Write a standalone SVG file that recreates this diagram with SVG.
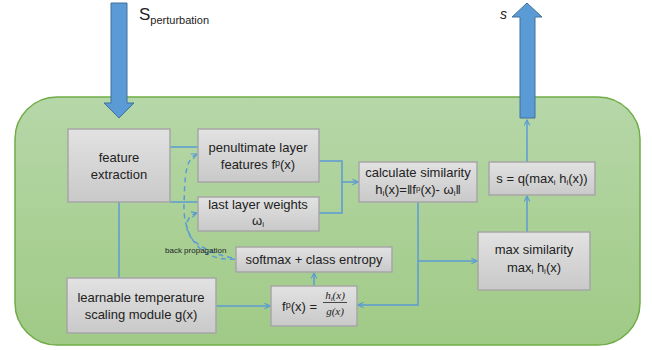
<svg xmlns="http://www.w3.org/2000/svg" width="652" height="350" viewBox="0 0 652 350">
<defs>
<linearGradient id="bg" x1="0" y1="0" x2="0" y2="1">
<stop offset="0" stop-color="#b6d7a8"/>
<stop offset="1" stop-color="#a0ca86"/>
</linearGradient>
<linearGradient id="box" x1="0" y1="0" x2="0" y2="1">
<stop offset="0" stop-color="#e2e2e2"/>
<stop offset="1" stop-color="#c9c9c9"/>
</linearGradient>
<marker id="ah" viewBox="0 0 10 10" refX="9" refY="5" markerWidth="7" markerHeight="7" orient="auto" markerUnits="userSpaceOnUse">
<path d="M1,1 L9,5 L1,9" fill="none" stroke="#5b9bd5" stroke-width="1.6"/>
</marker>
</defs>
<style>
.b{fill:url(#box);stroke:#a6a6a6;stroke-width:1.5}
.t{font-family:"Liberation Sans",Arial,sans-serif;font-size:13px;fill:#222;text-anchor:middle}
.c{fill:none;stroke:#5b9bd5;stroke-width:1.5}
.d{fill:none;stroke:#5b9bd5;stroke-width:1.5;stroke-dasharray:5,4}
.big{fill:#5b9bd5;stroke:#41719c;stroke-width:1}
</style>
<rect x="15" y="97" width="625" height="248" rx="42" ry="42" fill="url(#bg)" stroke="#70ad47" stroke-width="1.5"/>
<g id="input-arrow">
<path class="big" d="M111,3 H127 V103 H134 L119,118 L104,103 H111 Z"/>
<text x="139" y="20" font-family="'Liberation Sans',Arial,sans-serif" font-size="17" fill="#222">S<tspan font-size="11" dy="4">perturbation</tspan></text>
</g>
<g id="output-arrow">
<path class="big" d="M520,118 V17 H512 L527,3 L542,17 H535 V118 Z"/>
<text x="500" y="19" font-family="'Liberation Sans',Arial,sans-serif" font-size="14" font-style="italic" fill="#222">s</text>
</g>
<g id="connectors">
<path class="c" d="M170,147 H198"/>
<path class="c" d="M170,202 H198"/>
<path class="c" d="M119,202 V278"/>
<path class="c" d="M319,161 H342 V213 H319"/>
<path class="c" d="M342,182 H358" marker-end="url(#ah)"/>
<path class="c" d="M418,202 V305 H358" marker-end="url(#ah)"/>
<path class="c" d="M418,261 H477" marker-end="url(#ah)"/>
<path class="c" d="M527,232 V196" marker-end="url(#ah)"/>
<path class="c" d="M527,162 V120" marker-end="url(#ah)"/>
<path class="c" d="M216,306 H270" marker-end="url(#ah)"/>
<path class="c" d="M314,286 V273" marker-end="url(#ah)"/>
<path class="d" d="M235,259 C200,262 183,235 184,205 C185,175 185,160 197,154" marker-end="url(#ah)"/>
<path class="d" d="M232,258 C205,252 188,240 187,228 C186,220 190,215 197,213" marker-end="url(#ah)"/>
<text x="165" y="253" font-family="'Liberation Sans',Arial,sans-serif" font-size="8" fill="#222">back propagation</text>
</g>
<g id="feature-extraction">
<rect class="b" x="68" y="129" width="102" height="73"/>
<text class="t" x="119" y="162">feature</text>
<text class="t" x="119" y="179">extraction</text>
</g>
<g id="penultimate">
<rect class="b" x="198" y="129" width="121" height="53"/>
<text class="t" x="258" y="152">penultimate layer</text>
<text class="t" x="258" y="169">features f<tspan font-size="9" dy="-3">p</tspan><tspan dy="3">(x)</tspan></text>
</g>
<g id="last-layer">
<rect class="b" x="198" y="197" width="121" height="34"/>
<text class="t" x="258" y="209">last layer weights</text>
<text class="t" x="258" y="225">ω<tspan font-size="8" dy="2">i</tspan></text>
</g>
<g id="calc-similarity">
<rect class="b" x="359" y="162" width="118" height="40"/>
<text class="t" x="418" y="177">calculate similarity</text>
<text class="t" x="418" y="194">h<tspan font-size="8" dy="2">i</tspan><tspan dy="-2">(x)=‖f</tspan><tspan font-size="8" dy="-3">p</tspan><tspan dy="3">(x)- ω</tspan><tspan font-size="8" dy="2">i</tspan><tspan dy="-2">‖</tspan></text>
</g>
<g id="s-q">
<rect class="b" x="489" y="162" width="106" height="33"/>
<text class="t" x="542" y="183">s = q(max<tspan font-size="8" dy="2">i</tspan><tspan dy="-2"> h</tspan><tspan font-size="8" dy="2">i</tspan><tspan dy="-2">(x))</tspan></text>
</g>
<g id="max-similarity">
<rect class="b" x="478" y="232" width="112" height="58"/>
<text class="t" x="534" y="254">max similarity</text>
<text class="t" x="534" y="272">max<tspan font-size="8" dy="2">i</tspan><tspan dy="-2"> h</tspan><tspan font-size="8" dy="2">i</tspan><tspan dy="-2">(x)</tspan></text>
</g>
<g id="softmax">
<rect class="b" x="236" y="247" width="156" height="25"/>
<text class="t" x="314" y="264">softmax + class entropy</text>
</g>
<g id="temperature">
<rect class="b" x="67" y="278" width="149" height="55"/>
<text class="t" x="141" y="302">learnable temperature</text>
<text class="t" x="141" y="319">scaling module g(x)</text>
</g>
<g id="fp-box">
<rect class="b" x="271" y="286" width="86" height="40"/>
<text x="282" y="311" font-family="'Liberation Sans',Arial,sans-serif" font-size="13" fill="#222">f<tspan font-size="9" dy="-3">p</tspan><tspan dy="3">(x) =</tspan></text>
<text x="335" y="299" font-family="'Liberation Serif',serif" font-size="11" font-style="italic" fill="#222" text-anchor="middle">h<tspan font-size="7" dy="2">i</tspan><tspan dy="-2">(x)</tspan></text>
<line x1="323" y1="302.5" x2="347" y2="302.5" stroke="#222" stroke-width="0.8"/>
<text x="335" y="315" font-family="'Liberation Serif',serif" font-size="11" font-style="italic" fill="#222" text-anchor="middle">g(x)</text>
</g>
</svg>
